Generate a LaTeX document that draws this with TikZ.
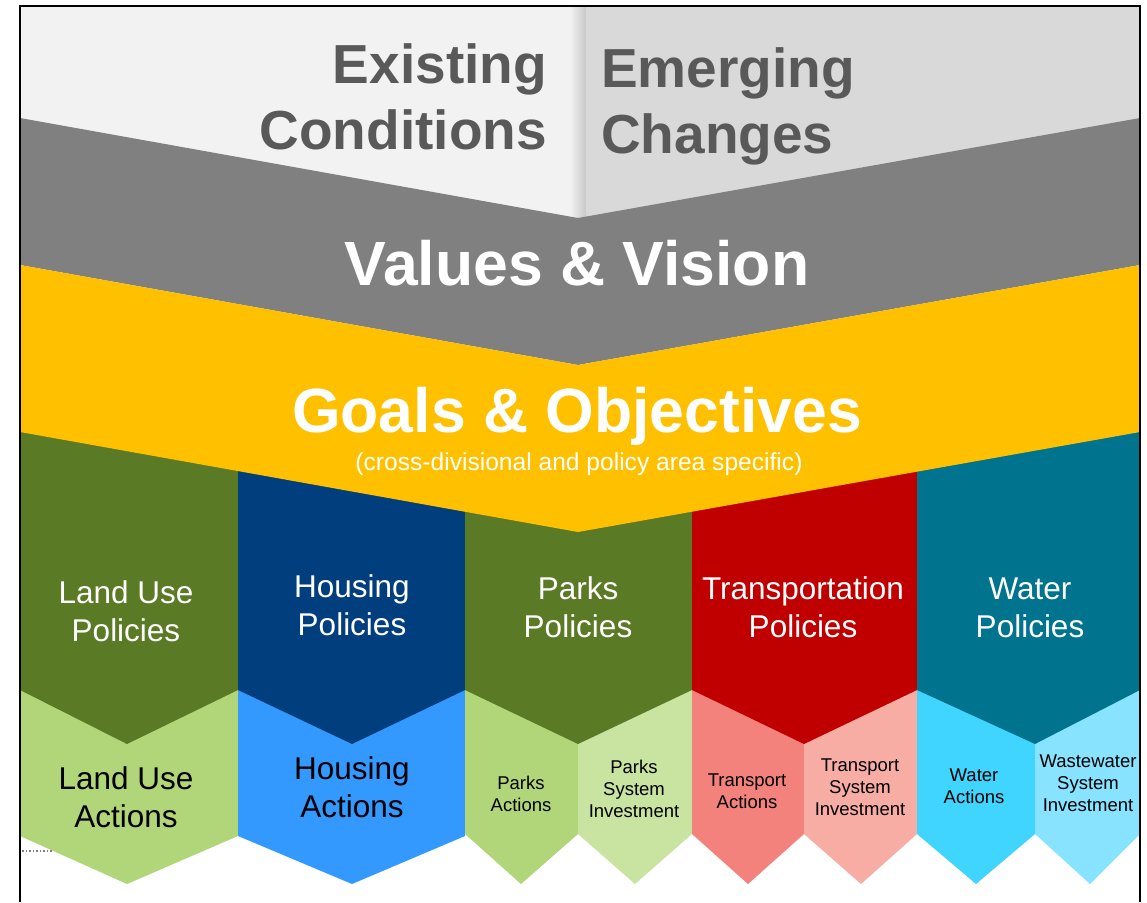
\documentclass[tikz,border=0pt]{standalone}
\usepackage{fontspec}
\setmainfont{Liberation Sans}
\usepackage{tikz}
\definecolor{headgray}{HTML}{595959}
\definecolor{paneleft}{HTML}{F2F2F2}
\definecolor{paneright}{HTML}{D9D9D9}
\definecolor{valgray}{HTML}{808080}
\definecolor{goalyellow}{HTML}{FFC000}
\definecolor{landdark}{HTML}{5B7A26}
\definecolor{landlight}{HTML}{B1D67A}
\definecolor{parkpale}{HTML}{C9E3A1}
\definecolor{housedark}{HTML}{003E7E}
\definecolor{houselight}{HTML}{3399FF}
\definecolor{transred}{HTML}{C00000}
\definecolor{translight}{HTML}{F4827C}
\definecolor{transpale}{HTML}{F7ACA4}
\definecolor{waterdark}{HTML}{00738F}
\definecolor{waterlight}{HTML}{40D5FF}
\definecolor{waterpale}{HTML}{87E3FF}
\tikzset{
  headtext/.style={text=headgray, font=\bfseries\fontsize{55}{66}\selectfont, inner sep=0pt},
  bandtext/.style={text=white, font=\bfseries\fontsize{62.5}{70}\selectfont, inner sep=0pt},
  notetext/.style={text=white, font=\fontsize{24.6}{28}\selectfont, inner sep=0pt},
  policytext/.style={text=white, font=\fontsize{31.5}{38}\selectfont, align=center, inner sep=0pt},
  actiontext/.style={text=black, font=\fontsize{31.5}{38}\selectfont, align=center, inner sep=0pt},
  smalltext/.style={text=black, font=\fontsize{18.5}{22}\selectfont, align=center, inner sep=0pt}
}
\begin{document}
\begin{tikzpicture}[x=1pt, y=-1pt]
  \useasboundingbox (0,0) rectangle (1147,902);
  \fill[white] (0,0) rectangle (1147,902);
  % action chevrons
  \foreach \xl/\xm/\xr/\col in {20/127/238/landlight, 238/352/465/houselight}
    \fill[\col] (\xl,680) -- (\xr,680) -- (\xr,836) -- (\xm,884) -- (\xl,836) -- cycle;
  \foreach \xl/\xm/\xr/\col in {465/521/578/landlight, 578/635/692/parkpale,
      692/748/804/translight, 804/861/917/transpale,
      917/976/1035/waterlight, 1035/1090/1140/waterpale}
    \fill[\col] (\xl,680) -- (\xr,680) -- (\xr,834) -- (\xm,884) -- (\xl,834) -- cycle;
  % policy chevrons
  \foreach \xl/\xm/\xr/\col in {20/127/238/landdark, 238/352/465/housedark,
      465/578/692/landdark, 692/804/917/transred, 917/1035/1140/waterdark}
    \fill[\col] (\xl,420) -- (\xr,420) -- (\xr,690) -- (\xm,744) -- (\xl,690) -- cycle;
  % top panels
  \fill[paneleft] (20,6) rectangle (570,222);
  \shade[left color=paneleft, right color=paneright!92!black] (570,6) rectangle (586,222);
  \fill[paneright] (586,6) rectangle (1140,222);
  % bands
  \fill[valgray] (20,118) -- (578,218) -- (1140,118) -- (1140,265) -- (578,365) -- (20,265) -- cycle;
  \fill[goalyellow] (20,265) -- (578,365) -- (1140,265) -- (1140,432) -- (578,532) -- (20,432) -- cycle;
  \draw[gray, dotted, line width=1.5pt] (22,851) -- (52,851);
  \draw[line width=1.3pt] (20,902) -- (20,6) -- (1140,6) -- (1140,902);

  \node[headtext, align=right, anchor=base east] (exist) at (547,149) {Existing\\Conditions};
  \node[headtext, align=left, anchor=base west] (emerge) at (601,153) {Emerging\\Changes};
  \node[bandtext, anchor=base] (values) at (577,285) {Values \& Vision};
  \node[bandtext, anchor=base] (goals) at (577,432) {Goals \& Objectives};
  \node[notetext, anchor=base] (goalsnote) at (579,470) {(cross-divisional and policy area specific)};

  \node[policytext, anchor=base] (landpol) at (126,641) {Land Use\\Policies};
  \node[policytext, anchor=base] (housepol) at (352,635) {Housing\\Policies};
  \node[policytext, anchor=base] (parkpol) at (578,637) {Parks\\Policies};
  \node[policytext, anchor=base] (transpol) at (803,637) {Transportation\\Policies};
  \node[policytext, anchor=base] (waterpol) at (1030,637) {Water\\Policies};

  \node[actiontext, anchor=base] (landact) at (126,827) {Land Use\\Actions};
  \node[actiontext, anchor=base] (houseact) at (352,817) {Housing\\Actions};
  \node[smalltext, anchor=base] (parkact) at (521,811) {Parks\\Actions};
  \node[smalltext, anchor=base] (parkinv) at (634,817) {Parks\\System\\Investment};
  \node[smalltext, anchor=base] (transact) at (747,808) {Transport\\Actions};
  \node[smalltext, anchor=base] (transinv) at (860,815) {Transport\\System\\Investment};
  \node[smalltext, anchor=base] (wateract) at (974,803) {Water\\Actions};
  \node[smalltext, anchor=base] (wasteinv) at (1088,811) {Wastewater\\System\\Investment};
\end{tikzpicture}
\end{document}
